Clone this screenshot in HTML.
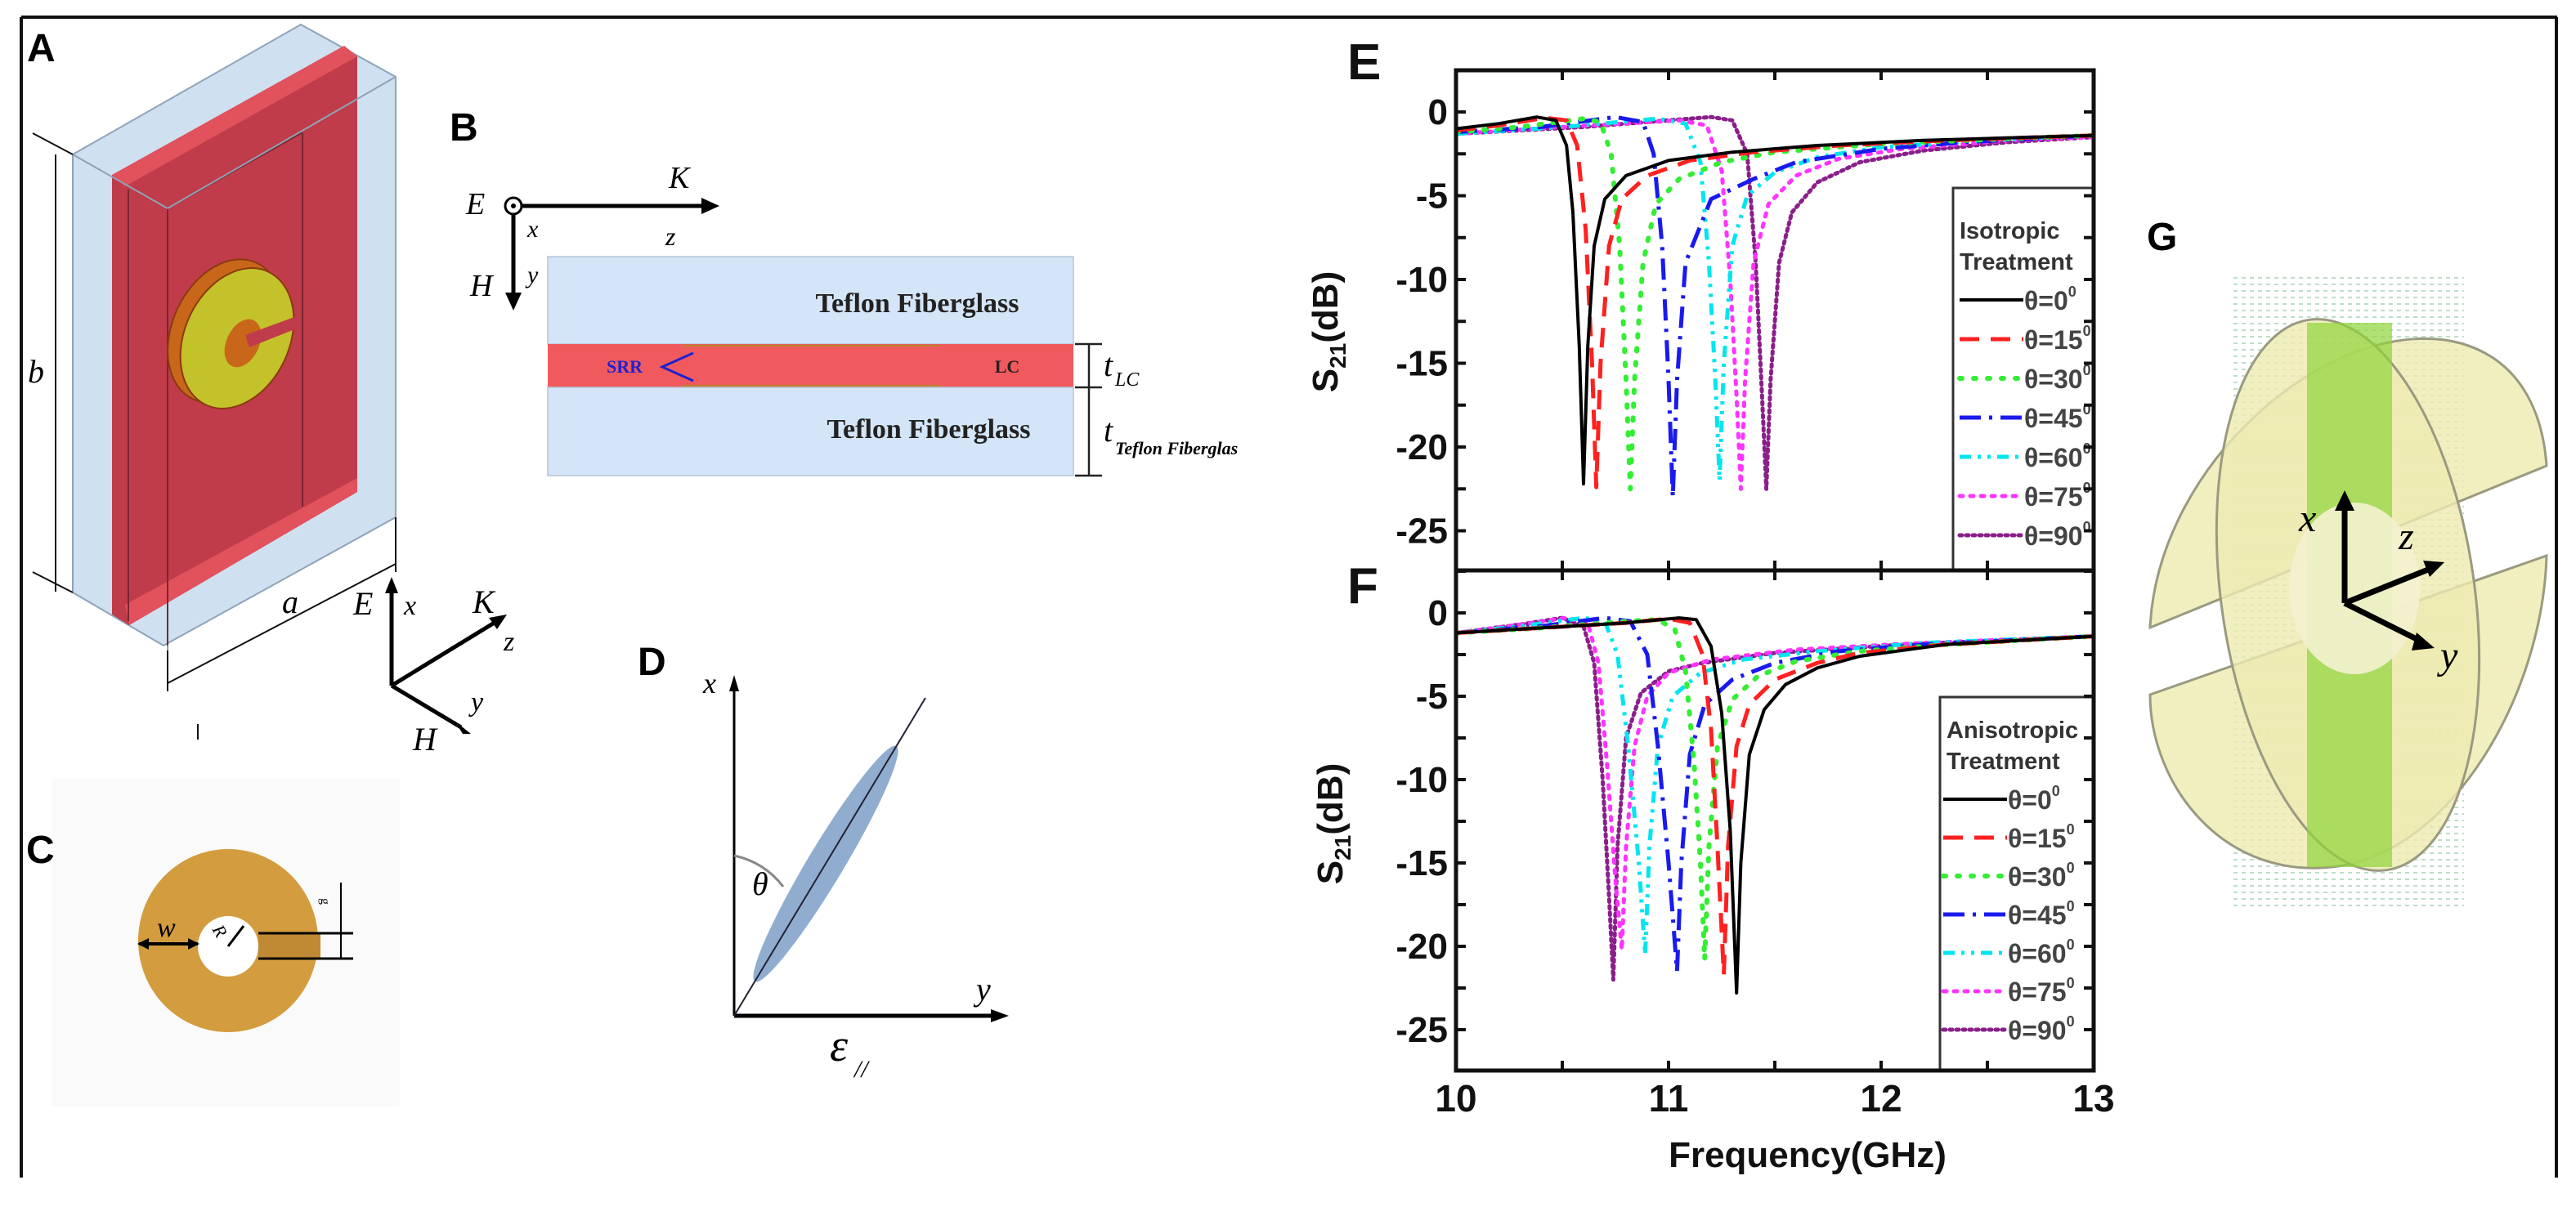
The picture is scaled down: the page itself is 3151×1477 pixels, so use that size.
<!DOCTYPE html>
<html><head><meta charset="utf-8"><style>
html,body{margin:0;padding:0;background:#fff;}
svg{display:block;}
.lbl{font-family:"Liberation Sans",Arial,sans-serif;font-weight:bold;}
.ser{font-family:"Liberation Serif","Times New Roman",serif;font-style:italic;}
</style></head><body>
<svg id="fig" width="3151" height="1477" viewBox="0 0 3151 1477" xmlns="http://www.w3.org/2000/svg">
<rect width="3151" height="1477" fill="#fff"/>
<g stroke="#111" stroke-width="4" fill="none">
<line x1="26" y1="21" x2="3128" y2="21"/>
<line x1="26" y1="21" x2="26" y2="1441"/>
<line x1="3127" y1="21" x2="3127" y2="1441"/>
</g>

<!-- Panel A -->
<g>
<text class="lbl" x="33" y="75" font-size="48">A</text>
<polygon points="368,30 484,94 484,633 200,790 89,725 89,189" fill="#cfe0f1" stroke="#8fa3b8" stroke-width="2"/>
<polygon points="137,214 421,56 437,69 437,602 158,765 137,752" fill="#c03c4a"/>
<polygon points="137,214 421,56 437,69 153,228" fill="#e2525c"/>
<polygon points="153,740 437,585 437,602 158,765" fill="#e2525c"/>
<g stroke="#7a2530" stroke-width="2" fill="none">
<line x1="205" y1="255" x2="205" y2="796"/>
<line x1="205" y1="255" x2="370" y2="162"/>
<line x1="370" y1="162" x2="370" y2="620"/>
<line x1="157" y1="232" x2="157" y2="760"/>
</g>
<g stroke="#8fa3b8" stroke-width="2" fill="none">
<line x1="89" y1="189" x2="205" y2="255"/>
<line x1="205" y1="255" x2="484" y2="94"/>
<line x1="205" y1="796" x2="205" y2="790"/>
</g>
<g>
<ellipse cx="275" cy="405" rx="64" ry="92" transform="rotate(25 275 405)" fill="#c8671a" stroke="#8a3a10" stroke-width="2"/>
<ellipse cx="290" cy="414" rx="64" ry="90" transform="rotate(25 290 414)" fill="#c4c22a" stroke="#8a3a10" stroke-width="2"/>
<ellipse cx="297" cy="420" rx="20" ry="31" transform="rotate(25 297 420)" fill="#c8671a"/>
<polygon points="300,410 368,385 368,400 305,425" fill="#c03c4a"/>
</g>
<g stroke="#111" stroke-width="2" fill="none">
<line x1="68" y1="189" x2="68" y2="724"/>
<line x1="40" y1="163" x2="89" y2="189"/>
<line x1="40" y1="700" x2="89" y2="725"/>
</g>
<text class="ser" x="34" y="468" font-size="40">b</text>
<g stroke="#111" stroke-width="2" fill="none">
<line x1="205" y1="836" x2="484" y2="690"/>
<line x1="205" y1="796" x2="205" y2="846"/>
<line x1="484" y1="633" x2="484" y2="700"/>
<line x1="242" y1="886" x2="242" y2="905"/>
</g>
<text class="ser" x="345" y="750" font-size="40">a</text>
<g stroke="#000" stroke-width="5" fill="#000">
<line x1="479" y1="839" x2="479" y2="722"/>
<polygon points="479,706 471,726 487,726" stroke="none"/>
<line x1="479" y1="839" x2="608" y2="760"/>
<polygon points="620,752 598,756 608,770" stroke="none"/>
<line x1="479" y1="839" x2="564" y2="890"/>
<polygon points="576,898 556,882 566,898" stroke="none"/>
</g>
<g class="ser" font-size="40" fill="#000">
<text x="432" y="752">E</text><text x="494" y="752" font-size="34">x</text>
<text x="578" y="750">K</text><text x="616" y="796" font-size="34">z</text>
<text x="576" y="870" font-size="34">y</text><text x="505" y="918">H</text>
</g>
</g>

<!-- Panel B -->
<g>
<text class="lbl" x="550" y="172" font-size="48">B</text>
<circle cx="628" cy="252" r="10" fill="#fff" stroke="#000" stroke-width="3"/>
<circle cx="628" cy="252" r="3" fill="#000"/>
<line x1="638" y1="252" x2="862" y2="252" stroke="#000" stroke-width="5"/>
<polygon points="880,252 858,242 858,262" fill="#000"/>
<line x1="628" y1="262" x2="628" y2="362" stroke="#000" stroke-width="5"/>
<polygon points="628,380 618,358 638,358" fill="#000"/>
<g class="ser" font-size="38">
<text x="570" y="262">E</text><text x="818" y="230">K</text><text x="814" y="300" font-size="32">z</text>
<text x="645" y="290" font-size="30">x</text><text x="645" y="346" font-size="30">y</text><text x="575" y="362">H</text>
</g>
<rect x="670" y="314" width="643" height="107" fill="#d3e5f6" stroke="#b5c5d5" stroke-width="1.5"/>
<rect x="670" y="421" width="643" height="53" fill="#f05a5e"/>
<rect x="670" y="474" width="643" height="108" fill="#d3e5f6" stroke="#b5c5d5" stroke-width="1.5"/>
<line x1="833" y1="423" x2="1150" y2="423" stroke="#b8862a" stroke-width="2"/>
<line x1="833" y1="472" x2="1150" y2="472" stroke="#b8862a" stroke-width="2"/>
<g font-family="Liberation Serif,serif" font-weight="bold">
<text x="1122" y="382" font-size="34" text-anchor="middle" fill="#222">Teflon Fiberglass</text>
<text x="1136" y="536" font-size="34" text-anchor="middle" fill="#222">Teflon Fiberglass</text>
<text x="764" y="456" font-size="22" text-anchor="middle" fill="#2020d0">SRR</text>
<text x="1232" y="456" font-size="22" text-anchor="middle" fill="#222">LC</text>
</g>
<path d="M848,432 L810,449 L848,466" fill="none" stroke="#2020d0" stroke-width="3"/>
<g stroke="#222" stroke-width="2.5">
<line x1="1332" y1="421" x2="1332" y2="582"/>
<line x1="1315" y1="421" x2="1348" y2="421"/>
<line x1="1315" y1="474" x2="1348" y2="474"/>
<line x1="1315" y1="582" x2="1348" y2="582"/>
</g>
<g class="ser">
<text x="1350" y="460" font-size="40">t</text><text x="1364" y="472" font-size="24">LC</text>
<text x="1350" y="540" font-size="40">t</text><text x="1364" y="556" font-size="22" font-weight="bold">Teflon Fiberglas</text>
</g>
</g>

<!-- Panel C -->
<g>
<rect x="63" y="953" width="426" height="401" fill="#fafafa"/>
<text class="lbl" x="32" y="1056" font-size="48">C</text>
<ellipse cx="279" cy="1151" rx="110" ry="112" fill="#d39c3e"/>
<circle cx="279" cy="1158" r="37" fill="#fff"/>
<rect x="316" y="1142" width="76" height="31" fill="#c08a35"/>
<line x1="316" y1="1142" x2="432" y2="1142" stroke="#000" stroke-width="3"/>
<line x1="316" y1="1173" x2="432" y2="1173" stroke="#000" stroke-width="3"/>
<line x1="417" y1="1080" x2="417" y2="1142" stroke="#000" stroke-width="2"/>
<line x1="417" y1="1142" x2="417" y2="1173" stroke="#000" stroke-width="2"/>
<text x="392" y="1110" font-size="16" font-family="Liberation Serif,serif" transform="rotate(90 398 1105)">g</text>
<line x1="170" y1="1155" x2="242" y2="1155" stroke="#000" stroke-width="4"/>
<polygon points="168,1155 182,1148 182,1162" fill="#000"/><polygon points="244,1155 230,1148 230,1162" fill="#000"/>
<text class="ser" x="192" y="1146" font-size="34">w</text>
<line x1="279" y1="1158" x2="298" y2="1133" stroke="#000" stroke-width="3"/>
<text class="ser" x="262" y="1148" font-size="22" transform="rotate(60 270 1140)">R</text>
</g>

<!-- Panel D -->
<g>
<text class="lbl" x="780" y="826" font-size="48">D</text>
<line x1="898" y1="1243" x2="898" y2="842" stroke="#000" stroke-width="3"/>
<polygon points="898,826 892,846 904,846" fill="#000"/>
<line x1="898" y1="1243" x2="1215" y2="1243" stroke="#000" stroke-width="5"/>
<polygon points="1234,1243 1212,1235 1212,1251" fill="#000"/>
<ellipse cx="1010" cy="1057" rx="22" ry="168" transform="rotate(31 1010 1057)" fill="#7c9fc8" fill-opacity="0.85"/>
<line x1="898" y1="1243" x2="1132" y2="854" stroke="#223" stroke-width="2"/>
<path d="M898,1047 Q935,1055 958,1085" fill="none" stroke="#888" stroke-width="3"/>
<g class="ser">
<text x="920" y="1095" font-size="40">θ</text>
<text x="860" y="848" font-size="36">x</text>
<text x="1194" y="1224" font-size="40">y</text>
<text x="1015" y="1298" font-size="56">ε</text><text x="1045" y="1318" font-size="30">//</text>
</g>
</g>

<!-- Panel G -->
<g>
<text class="lbl" x="2626" y="306" font-size="48">G</text>
<pattern id="dots" width="10" height="8" patternUnits="userSpaceOnUse"><rect x="2" y="3" width="5" height="2" fill="#9fd0b0"/></pattern>
<rect x="2730" y="338" width="284" height="772" fill="url(#dots)" opacity="0.7"/>
<g fill="#eeeab0" fill-opacity="0.8" stroke="#9a9a80" stroke-width="3">
<path d="M2630,768 C2640,560 2860,380 3010,420 C3080,440 3110,500 3115,570 L2630,768 Z"/>
<path d="M2630,850 L3115,680 C3110,850 3000,1040 2860,1060 C2720,1080 2630,960 2630,850 Z"/>
<ellipse cx="2872" cy="728" rx="155" ry="340" transform="rotate(-8 2872 728)"/>
</g>
<rect x="2822" y="395" width="104" height="666" fill="#8ed43a" opacity="0.7"/>
<ellipse cx="2880" cy="720" rx="80" ry="105" fill="#f4f1d0" opacity="0.9"/>
<g stroke="#000" stroke-width="7" fill="#000">
<line x1="2868" y1="738" x2="2868" y2="620"/>
<polygon points="2868,600 2856,625 2880,625" stroke="none"/>
<line x1="2868" y1="738" x2="2975" y2="695"/>
<polygon points="2990,688 2964,686 2972,706" stroke="none"/>
<line x1="2868" y1="738" x2="2962" y2="785"/>
<polygon points="2978,793 2956,774 2950,796" stroke="none"/>
</g>
<g class="ser" font-size="48"><text x="2812" y="650">x</text><text x="2934" y="672">z</text><text x="2985" y="818">y</text></g>
</g>

<g id="charts"></g>
</svg>
<script>
// ---------- Data ----------
const xTickVals=[10,11,12,13];
const xMinorVals=[10.5,11.5,12.5];
const yTickVals=[0,-5,-10,-15,-20,-25];
const yMinorVals=[2.5,-2.5,-7.5,-12.5,-17.5,-22.5];
const seriesLabels=["θ=0","θ=15","θ=30","θ=45","θ=60","θ=75","θ=90"];

const isoF0=[10,10.2,10.38,10.47,10.52,10.55,10.58,10.60,10.62,10.65,10.70,10.8,11.0,11.3,11.7,12.2,13];
const isoD0=[-1.0,-0.7,-0.3,-0.5,-2,-6,-14,-22.2,-14,-8,-5.2,-3.8,-2.9,-2.4,-2.0,-1.7,-1.4];
const isoF15=[10,10.2,10.42,10.52,10.57,10.61,10.64,10.66,10.68,10.72,10.78,10.9,11.1,11.4,11.8,12.3,13];
const isoD15=[-1.1,-0.8,-0.35,-0.5,-2,-7,-15,-22.4,-15,-8,-5.2,-3.8,-2.9,-2.4,-2.0,-1.7,-1.4];
const isoF30=[10,10.3,10.6,10.68,10.73,10.77,10.80,10.82,10.84,10.88,10.94,11.05,11.25,11.5,12,13];
const isoD30=[-1.2,-0.9,-0.4,-0.6,-2.5,-8,-16,-22.5,-16,-9,-5.5,-4,-3,-2.4,-1.9,-1.4];
const isoF45=[10,10.4,10.75,10.88,10.93,10.97,11.0,11.02,11.04,11.08,11.2,11.4,11.6,12,12.4,13];
const isoD45=[-1.2,-0.9,-0.3,-0.6,-2.5,-8,-16,-23,-16,-9,-5.2,-4,-3,-2.2,-1.8,-1.4];
const isoF60=[10,10.5,10.95,11.08,11.15,11.19,11.22,11.24,11.26,11.30,11.37,11.5,11.7,12,12.5,13];
const isoD60=[-1.3,-0.9,-0.4,-0.7,-3,-9,-16,-22,-15,-8,-5,-3.6,-2.7,-2.1,-1.7,-1.4];
const isoF75=[10,10.5,11.05,11.18,11.25,11.29,11.32,11.34,11.36,11.40,11.47,11.6,11.8,12.1,12.6,13];
const isoD75=[-1.3,-0.9,-0.5,-0.8,-3.5,-10,-17,-22.5,-16,-9,-5.5,-3.8,-2.8,-2.2,-1.7,-1.5];
const isoF90=[10,10.6,11.2,11.3,11.37,11.41,11.44,11.46,11.48,11.52,11.58,11.7,11.9,12.2,12.6,13];
const isoD90=[-1.3,-0.9,-0.3,-0.5,-2.5,-9,-17,-22.5,-16,-9,-6,-4.2,-3,-2.3,-1.8,-1.5];

const aniF0=[10,10.4,10.8,11.05,11.13,11.2,11.25,11.29,11.32,11.34,11.38,11.45,11.55,11.7,11.9,12.3,13];
const aniD0=[-1.2,-0.9,-0.6,-0.3,-0.4,-2,-6,-13,-22.8,-15,-8.5,-5.8,-4.3,-3.3,-2.6,-1.9,-1.4];
const aniF15=[10,10.4,10.8,11.0,11.1,11.16,11.2,11.23,11.26,11.28,11.32,11.38,11.5,11.7,11.9,12.3,13];
const aniD15=[-1.2,-0.9,-0.6,-0.35,-0.6,-2.5,-7,-14,-21.7,-14,-8,-5.5,-4,-3,-2.4,-1.9,-1.4];
const aniF30=[10,10.4,10.8,10.95,11.03,11.08,11.12,11.15,11.17,11.19,11.23,11.3,11.42,11.6,11.9,12.3,13];
const aniD30=[-1.2,-0.9,-0.5,-0.4,-1,-3.5,-9,-15,-20.8,-14,-8,-5.2,-3.8,-2.9,-2.3,-1.9,-1.4];
const aniF45=[10,10.4,10.7,10.82,10.9,10.95,11.0,11.04,11.06,11.1,11.17,11.3,11.5,11.8,12.2,13];
const aniD45=[-1.2,-0.8,-0.3,-0.5,-2.5,-8,-15,-21.5,-15,-8.5,-5.5,-4,-3,-2.3,-1.9,-1.4];
const aniF60=[10,10.3,10.6,10.7,10.76,10.81,10.86,10.89,10.91,10.95,11.02,11.15,11.35,11.7,12.2,13];
const aniD60=[-1.2,-0.8,-0.3,-0.5,-2.5,-8,-15,-20.5,-14,-8,-5,-3.6,-2.8,-2.3,-1.8,-1.4];
const aniF75=[10,10.3,10.52,10.62,10.67,10.71,10.75,10.78,10.80,10.84,10.9,11.0,11.2,11.6,12.2,13];
const aniD75=[-1.2,-0.7,-0.3,-0.6,-3,-9,-16,-20.2,-14,-8,-5,-3.6,-2.8,-2.2,-1.8,-1.4];
const aniF90=[10,10.3,10.5,10.6,10.65,10.69,10.72,10.74,10.76,10.8,10.87,11.0,11.16,11.5,12.1,13];
const aniD90=[-1.2,-0.7,-0.3,-0.8,-3,-10,-17,-22,-14,-7.5,-4.8,-3.5,-3.0,-2.4,-1.9,-1.4];

// ---------- Styles ----------
const colors=["#000000","#ff2020","#33ee33","#1a1aee","#00e5ee","#ff33ff","#8a1f8a"];
const dashes=["none","24 14","3 14","26 10 4 10","14 8 4 8 4 8","4 9","3 5"];
const widths=[4,5,6,5,5,5,5];
const NS="http://www.w3.org/2000/svg";
function mk(tag,attrs,parent){const e=document.createElementNS(NS,tag);for(const k in attrs)e.setAttribute(k,attrs[k]);parent.appendChild(e);return e;}

function drawChart(cfg){
  const root=document.getElementById('charts');
  const g=mk('g',{},root);
  
  
  const xs=v=>cfg.left+(v-10)/3*(cfg.right-cfg.left);
  const ys=v=>cfg.y0-v*cfg.per;
  const cid='clip-'+cfg.name;
  const cp=mk('clipPath',{id:cid},g);
  mk('rect',{x:cfg.left,y:cfg.top,width:cfg.right-cfg.left,height:cfg.bottom-cfg.top},cp);
  // series
  const sg=mk('g',{'clip-path':'url(#'+cid+')'},g);
  for(let i=cfg.fs.length-1;i>=0;i--){
    const pts=cfg.fs[i].map((f,j)=>xs(f).toFixed(1)+','+ys(cfg.ds[i][j]).toFixed(1)).join(' ');
    const pl=mk('polyline',{points:pts,fill:'none',stroke:colors[i],'stroke-width':widths[i],'stroke-dasharray':dashes[i],'stroke-linecap':i==2||i>=5?'round':'butt','stroke-linejoin':'round'},sg);
    
    
  }
  // legend
  const lg=mk('g',{},g);
  
  
  mk('rect',{x:cfg.lx,y:cfg.ly,width:cfg.right-cfg.lx,height:cfg.bottom-cfg.ly,fill:'#fff',stroke:'#333','stroke-width':3},lg);
  const t1=mk('text',{x:cfg.lx+8,y:cfg.t1y+10,'font-size':29,fill:'#333',class:'lbl'},lg);t1.textContent=cfg.title;
  const t2=mk('text',{x:cfg.lx+8,y:cfg.t1y+48,'font-size':29,fill:'#333',class:'lbl'},lg);t2.textContent='Treatment';
  for(let i=0;i<7;i++){
    const yy=cfg.ey+i*cfg.esp;
    const ln=mk('line',{x1:cfg.sx,y1:yy,x2:cfg.sx+78,y2:yy,stroke:colors[i],'stroke-width':widths[i],'stroke-dasharray':dashes[i],'stroke-linecap':i==2||i>=5?'round':'butt'},lg);
    
    
    const tx=mk('text',{x:cfg.sx+79,y:yy+12,'font-size':32,fill:'#444',class:'lbl'},lg);
    
    
    tx.textContent=seriesLabels[i];
    const sup=mk('tspan',{'font-size':18,dy:-16},tx);sup.textContent='0';
  }
  // frame
  mk('rect',{x:cfg.left,y:cfg.top,width:cfg.right-cfg.left,height:cfg.bottom-cfg.top,fill:'none',stroke:'#111','stroke-width':5},g);
  // ticks
  const tk=mk('g',{stroke:'#111','stroke-width':4},g);
  xTickVals.concat(xMinorVals).forEach(v=>{const X=xs(v);mk('line',{x1:X,y1:cfg.top,x2:X,y2:cfg.top+12},tk);mk('line',{x1:X,y1:cfg.bottom,x2:X,y2:cfg.bottom-12},tk);});
  yTickVals.concat(yMinorVals).forEach(v=>{const Y=ys(v);mk('line',{x1:cfg.left,y1:Y,x2:cfg.left+12,y2:Y},tk);mk('line',{x1:cfg.right,y1:Y,x2:cfg.right-12,y2:Y},tk);});
  yTickVals.forEach(v=>{const t=mk('text',{x:cfg.left-10,y:ys(v)+15,'text-anchor':'end','font-size':44,class:'lbl',fill:'#111'},g);
    
    
    t.textContent=String(v);});
  if(cfg.xlabels){
    xTickVals.forEach(v=>{const t=mk('text',{x:xs(v),y:cfg.bottom+50,'text-anchor':'middle','font-size':46,class:'lbl',fill:'#111'},g);
      
      
      t.textContent=String(v);});
    const xt=mk('text',{x:2211,y:1428,'text-anchor':'middle','font-size':44,class:'lbl',fill:'#111'},g);
    
    
    xt.textContent='Frequency(GHz)';
  }
  const ya=mk('text',{transform:'translate('+cfg.yax+','+cfg.yay+') rotate(-90)','text-anchor':'middle','font-size':44,class:'lbl',fill:'#111'},g);
  
  
  ya.appendChild(document.createTextNode('S'));
  const sb=mk('tspan',{'font-size':28,dy:10},ya);sb.textContent='21';
  const rest=mk('tspan',{dy:-10},ya);rest.textContent='(dB)';
  const pl=mk('text',{x:cfg.plx,y:cfg.ply,'font-size':62,class:'lbl',fill:'#111'},g);
  
  
  pl.textContent=cfg.letter;
}
drawChart({name:'chart-e',tag:'iso',left:1781,right:2561,top:86,bottom:698,y0:137,per:20.5,
  fs:[isoF0,isoF15,isoF30,isoF45,isoF60,isoF75,isoF90],ds:[isoD0,isoD15,isoD30,isoD45,isoD60,isoD75,isoD90],
  lx:2389,ly:230,title:'Isotropic',t1y:282,ey:367,esp:48,sx:2397,xlabels:false,yax:1636,yay:406,plx:1648,ply:97,letter:'E'});
drawChart({name:'chart-f',tag:'aniso',left:1781,right:2561,top:698,bottom:1310,y0:750,per:20.4,
  fs:[aniF0,aniF15,aniF30,aniF45,aniF60,aniF75,aniF90],ds:[aniD0,aniD15,aniD30,aniD45,aniD60,aniD75,aniD90],
  lx:2373,ly:853,title:'Anisotropic',t1y:893,ey:978,esp:47,sx:2377,xlabels:true,yax:1642,yay:1008,plx:1648,ply:738,letter:'F'});
</script>
</body></html>
